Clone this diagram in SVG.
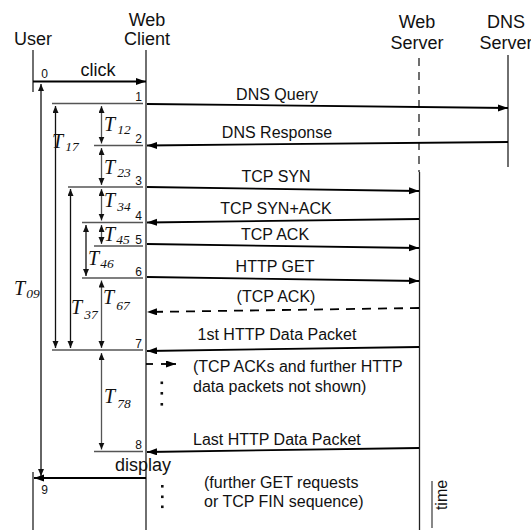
<svg xmlns="http://www.w3.org/2000/svg" width="531" height="530" viewBox="0 0 531 530">
  <style>
    .hdr { font-family: "Liberation Sans", Arial, sans-serif; font-size: 18px; fill: #111; text-anchor: middle; }
    .msg { font-family: "Liberation Sans", Arial, sans-serif; font-size: 16px; fill: #111; }
    .num { font-family: "Liberation Sans", Arial, sans-serif; font-size: 12px; fill: #111; text-anchor: end; }
    .tl { font-family: "Liberation Serif", "Times New Roman", serif; font-style: italic; font-size: 20px; fill: #111; }
    .sub { font-size: 13.5px; }
    .life { stroke: #222; stroke-width: 1.3; fill: none; }
    .arr { stroke: #000; stroke-width: 1.8; fill: none; marker-end: url(#head); }
    .dash { stroke-dasharray: 9 7; }
    .mark { stroke: #555; stroke-width: 1.4; fill: none; }
    .span { stroke: #555; stroke-width: 1.3; fill: none; marker-start: url(#tip); marker-end: url(#tip); }
    .span.dk { stroke: #111; }
    .dot { fill: #111; }
  </style>
  <defs>
    <marker id="head" markerUnits="userSpaceOnUse" markerWidth="11" markerHeight="8" refX="10" refY="3.5" orient="auto">
      <path d="M0,0 L10,3.5 L0,7 z" fill="#000"/>
    </marker>
    <marker id="tip" markerUnits="userSpaceOnUse" markerWidth="8" markerHeight="7" refX="7" refY="3" orient="auto-start-reverse">
      <path d="M0,0 L7,3 L0,6 z" fill="#111"/>
    </marker>
  </defs>

  <!-- participants -->
  <g id="user">
    <text class="hdr" x="33" y="45">User</text>
    <line class="life" x1="33" y1="50" x2="33" y2="92"/>
    <line class="life" x1="33" y1="472" x2="33" y2="530"/>
  </g>
  <g id="web-client">
    <text class="hdr" x="147" y="25.5">Web</text>
    <text class="hdr" x="147" y="45">Client</text>
    <line class="life" x1="146" y1="50" x2="146" y2="530"/>
  </g>
  <g id="web-server">
    <text class="hdr" x="417" y="27.5">Web</text>
    <text class="hdr" x="417" y="48.5">Server</text>
    <line class="life" x1="419" y1="58" x2="419" y2="172" stroke-dasharray="8 6"/>
    <line class="life" x1="419.5" y1="172" x2="419.5" y2="530"/>
  </g>
  <g id="dns-server">
    <text class="hdr" x="506" y="27.5">DNS</text>
    <text class="hdr" x="506" y="48.5">Server</text>
    <line class="life" x1="508" y1="55" x2="508" y2="167"/>
  </g>

  <!-- event marks on the client side -->
  <g id="marks">
    <line class="mark" x1="52" y1="103.5" x2="143" y2="103.5"/>
    <line class="mark" x1="94" y1="145.5" x2="143" y2="145.5"/>
    <line class="mark" x1="68" y1="187" x2="143" y2="187"/>
    <line class="mark" x1="82" y1="222.5" x2="143" y2="222.5"/>
    <line class="mark" x1="94" y1="246" x2="143" y2="246"/>
    <line class="mark" x1="82" y1="278" x2="143" y2="278"/>
    <line class="mark" x1="52" y1="350" x2="143" y2="350"/>
    <line class="mark" x1="94" y1="451.5" x2="143" y2="451.5"/>
    <text class="num" x="48" y="78">0</text>
    <text class="num" x="142" y="101">1</text>
    <text class="num" x="142" y="143">2</text>
    <text class="num" x="142" y="184.5">3</text>
    <text class="num" x="142" y="220">4</text>
    <text class="num" x="142" y="243.5">5</text>
    <text class="num" x="142" y="275.5">6</text>
    <text class="num" x="142" y="347.5">7</text>
    <text class="num" x="142" y="449">8</text>
    <text class="num" x="48" y="494">9</text>
  </g>

  <!-- messages -->
  <g id="connectors">
    <line class="arr" x1="33" y1="81.5" x2="146" y2="81.5"/>
    <text class="hdr" x="98" y="76">click</text>

    <line class="arr" x1="147" y1="104" x2="508" y2="108"/>
    <text class="msg" x="277" y="100" text-anchor="middle">DNS Query</text>

    <line class="arr" x1="508" y1="142" x2="147" y2="145.5"/>
    <text class="msg" x="277" y="138" text-anchor="middle">DNS Response</text>

    <line class="arr" x1="147" y1="187" x2="419" y2="191"/>
    <text class="msg" x="276" y="182" text-anchor="middle">TCP SYN</text>

    <line class="arr" x1="419" y1="219" x2="147" y2="222.5"/>
    <text class="msg" x="276" y="214" text-anchor="middle">TCP SYN+ACK</text>

    <line class="arr" x1="147" y1="244" x2="419" y2="248"/>
    <text class="msg" x="275" y="239.5" text-anchor="middle">TCP ACK</text>

    <line class="arr" x1="147" y1="277" x2="419" y2="281"/>
    <text class="msg" x="275" y="271.5" text-anchor="middle">HTTP GET</text>

    <line class="arr dash" x1="419" y1="308" x2="147" y2="312"/>
    <text class="msg" x="276" y="302" text-anchor="middle">(TCP ACK)</text>

    <line class="arr" x1="419" y1="347" x2="147" y2="351"/>
    <text class="msg" x="277" y="340" text-anchor="middle">1st HTTP Data Packet</text>

    <line x1="146" y1="364" x2="153" y2="364" stroke="#000" stroke-width="1.8"/>
    <line class="arr" x1="161" y1="364" x2="176" y2="364"/>
    <text class="msg" x="193" y="372">(TCP ACKs and further HTTP</text>
    <text class="msg" x="193" y="391.5">data packets not shown)</text>
    <rect class="dot" x="160.5" y="381.5" width="2.6" height="2.6"/>
    <rect class="dot" x="160.5" y="392" width="2.6" height="2.6"/>
    <rect class="dot" x="160.5" y="403" width="2.6" height="2.6"/>

    <line class="arr" x1="419" y1="448" x2="147" y2="452"/>
    <text class="msg" x="193" y="444.5">Last HTTP Data Packet</text>

    <text class="hdr" x="143" y="471" text-anchor="end">display</text>
    <line class="arr" x1="146" y1="478" x2="34" y2="478"/>

    <rect class="dot" x="161" y="485" width="2.6" height="2.6"/>
    <rect class="dot" x="161" y="495.5" width="2.6" height="2.6"/>
    <rect class="dot" x="161" y="505.5" width="2.6" height="2.6"/>
    <text class="msg" x="204" y="488">(further GET requests</text>
    <text class="msg" x="204" y="506.5">or TCP FIN sequence)</text>
  </g>

  <!-- interval spans -->
  <g id="intervals">
    <line class="span dk" x1="41" y1="84" x2="41" y2="476"/>
    <line class="span dk" x1="55.5" y1="106" x2="55.5" y2="348"/>
    <line class="span dk" x1="70.5" y1="189" x2="70.5" y2="348"/>
    <line class="span dk" x1="86" y1="225" x2="86" y2="276"/>
    <line class="span" x1="101.5" y1="106" x2="101.5" y2="143.5"/>
    <line class="span" x1="101.5" y1="148" x2="101.5" y2="185"/>
    <line class="span" x1="101.5" y1="189" x2="101.5" y2="220.5"/>
    <line class="span" x1="101.5" y1="225" x2="101.5" y2="244"/>
    <line class="span" x1="101.5" y1="280.5" x2="101.5" y2="348"/>
    <line class="span" x1="101.5" y1="353" x2="101.5" y2="449.5"/>

    <text class="tl" x="14" y="295">T<tspan class="sub" dx="1" dy="3">09</tspan></text>
    <text class="tl" x="52" y="148">T<tspan class="sub" dx="2" dy="3">17</tspan></text>
    <text class="tl" x="104" y="131">T<tspan class="sub" dx="2" dy="3">12</tspan></text>
    <text class="tl" x="104" y="174">T<tspan class="sub" dx="2" dy="3">23</tspan></text>
    <text class="tl" x="104" y="207">T<tspan class="sub" dx="2" dy="4">34</tspan></text>
    <text class="tl" x="104" y="241">T<tspan class="sub" dx="1" dy="3">45</tspan></text>
    <text class="tl" x="88" y="265">T<tspan class="sub" dx="1" dy="3">46</tspan></text>
    <text class="tl" x="71" y="314">T<tspan class="sub" dx="2" dy="5">37</tspan></text>
    <text class="tl" x="103" y="304">T<tspan class="sub" dx="2" dy="6">67</tspan></text>
    <text class="tl" x="104" y="403">T<tspan class="sub" dx="2" dy="5">78</tspan></text>
  </g>

  <!-- time axis -->
  <g id="time-axis">
    <line x1="432" y1="481" x2="432" y2="528" stroke="#555" stroke-width="1.4"/>
    <text class="msg" transform="translate(447,495) rotate(-90)" text-anchor="middle">time</text>
  </g>
</svg>
